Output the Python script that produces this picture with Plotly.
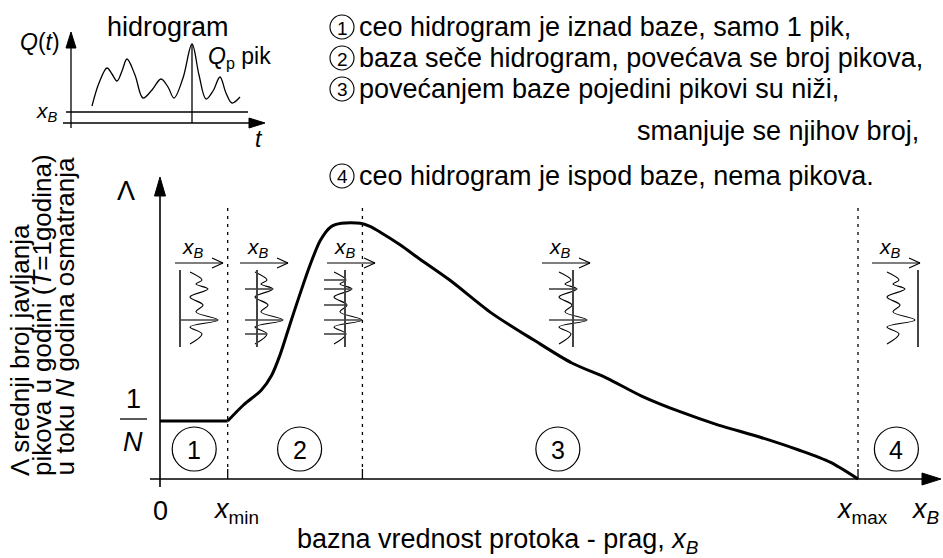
import plotly.graph_objects as go

W, H = 943, 558
FONT = "Liberation Sans"
FS = 27

# ---- main curve: mean yearly number of peaks Λ versus base flow x_B ----
# x_B in units where x_max = 10, Λ in units of 1/N
x_b = [0, 0.97, 1.2, 1.45, 1.6, 1.72, 1.86, 2.0, 2.15, 2.3, 2.45, 2.6, 2.87, 3.0,
       3.15, 3.45, 3.7, 4.15, 4.75, 5.35, 5.9, 6.4, 6.9, 7.45, 8.0, 8.6, 9.15, 9.6, 10]
lam = [1.0, 1.0, 1.28, 1.53, 1.79, 2.14, 2.66, 3.17, 3.69, 4.12, 4.35, 4.41, 4.41, 4.36,
       4.26, 4.03, 3.81, 3.43, 2.86, 2.4, 2.0, 1.74, 1.43, 1.16, 0.93, 0.72, 0.5, 0.29, 0.0]
x_min, x_top, x_max = 0.97, 2.9, 10.0
region_ids = ["1", "2", "3", "4"]
region_label_x = [0.49, 2.0, 5.7, 10.55]

# ---- inset hydrograph Q(t) ----
t_h = [21, 28, 36, 41, 46, 51, 56, 64, 72, 81, 90, 97, 103, 112, 121, 128, 135, 142, 149, 155, 161, 169]
q_h = [17, 40, 55, 49, 42, 52, 64, 48, 25, 33, 44, 36, 25, 45, 79, 48, 24, 32, 46, 30, 20, 26]
q_base_inset = 11
t_peak, q_peak = 121, 79

# ---- rotated small hydrograph used in the regime sketches (t downward, Q rightward) ----
g_t = [0, 8, 12, 17, 25, 33, 40, 48, 55, 62, 72]
g_q = [2, 14, 8, 20, 2, 15, 8, 30, 2, 14, 2]
sketch_x0 = [188, 253, 332, 557, 885]      # left edge (Q = 0) of each sketch
sketch_base = [180, 257, 345, 573, 918]    # position of the base x_B in each sketch
sketch_arrow = [175, 240, 327, 542, 872]
SK_TOP, SK_BOT, SK_ARROW_Y = 272, 347, 263

# ---- pixel helpers ----
X0, Y0, SX, SY = 160, 479, 69.8, 58.0
def dx(p): return (p - X0) / SX
def dy(p): return (Y0 - p) / SY
def px(x): return X0 + x * SX
def py(y): return Y0 - y * SY
def pp(xp, yp): return xp / W, 1 - yp / H

IX0, IY0 = 71, 123  # inset origin

fig = go.Figure()

# Λ curve
i_min = x_b.index(x_min)
fig.add_trace(go.Scatter(x=x_b[:i_min + 1], y=lam[:i_min + 1], mode="lines",
                         line=dict(color="black", width=3), hoverinfo="skip"))
fig.add_trace(go.Scatter(x=x_b[i_min:], y=lam[i_min:], mode="lines",
                         line=dict(color="black", width=3, shape="spline", smoothing=0.8),
                         hoverinfo="skip"))

# inset hydrograph
fig.add_trace(go.Scatter(x=t_h, y=q_h, mode="lines", xaxis="x2", yaxis="y2",
                         line=dict(color="black", width=1.3, shape="spline", smoothing=1.0),
                         hoverinfo="skip"))

shapes = []
annos = []

def line_px(x0, y0, x1, y1, w=1.5, color="black", dash=None):
    a, b = pp(x0, y0)
    c, d = pp(x1, y1)
    ln = dict(color=color, width=w)
    if dash:
        ln["dash"] = dash
    shapes.append(dict(type="line", xref="paper", yref="paper", x0=a, y0=b, x1=c, y1=d, line=ln))

def tri_px(pts):
    s = "M " + " L ".join("%f,%f" % pp(x, y) for x, y in pts) + " Z"
    shapes.append(dict(type="path", xref="paper", yref="paper", path=s,
                       fillcolor="black", line=dict(color="black", width=1)))

def circle_px(cx, cy, r, w=1.2):
    a, b = pp(cx - r, cy - r)
    c, d = pp(cx + r, cy + r)
    shapes.append(dict(type="circle", xref="paper", yref="paper", x0=a, y0=d, x1=c, y1=b,
                       line=dict(color="black", width=w)))

def text_px(x, y, s, size=FS, xanchor="center", yanchor="middle", angle=0):
    a, b = pp(x, y)
    annos.append(dict(x=a, y=b, xref="paper", yref="paper", text=s, showarrow=False,
                      xanchor=xanchor, yanchor=yanchor, textangle=angle,
                      font=dict(family=FONT, size=size, color="black")))

XB = "<i>x</i><sub><i>B</i></sub>"

# main axes
line_px(160, 487, 160, 192, 1.6)
tri_px([(160, 177), (154.5, 196), (165.5, 196)])
line_px(150, 479, 926, 479, 1.6)
tri_px([(941, 479), (922, 473), (922, 485)])

# region boundaries
for xv in (x_min, x_top, x_max):
    line_px(px(xv), 208, px(xv), 469, 1.3, dash="3px,5px")
    line_px(px(xv), 469, px(xv), 479, 1.3)

# region numbers
for xv, lab in zip(region_label_x, region_ids):
    circle_px(px(xv), 449, 22)
    text_px(px(xv), 450, lab, 25)

# axis labels
text_px(160, 511, "0", FS)
text_px(236, 511, "<i>x</i><sub>min</sub>", FS)
text_px(862, 511, "<i>x</i><sub>max</sub>", FS)
text_px(925, 511, XB, FS)
text_px(295, 541, "bazna vrednost protoka - prag, " + XB, FS, xanchor="left")
text_px(126, 191, "Λ", FS)
text_px(133, 399, "1", FS)
line_px(120, 419, 147, 419, 1.3)
text_px(133, 442, "<i>N</i>", FS)

# rotated y label (three lines, starting at the bottom)
text_px(20, 478, "Λ srednji broj javljanja", 26, yanchor="bottom", angle=-90)
text_px(42, 478, "pikova u godini (<i>T</i>=1godina)", 26, yanchor="bottom", angle=-90)
text_px(64, 478, "u toku <i>N</i> godina osmatranja", 26, yanchor="bottom", angle=-90)

# legend list
list_y = [27, 58, 89, 176]
list_txt = ["ceo hidrogram je iznad baze, samo 1 pik,",
            "baza seče hidrogram, povećava se broj pikova,",
            "povećanjem baze pojedini pikovi su niži,",
            "ceo hidrogram je ispod baze, nema pikova."]
for yv, lab, s in zip(list_y, region_ids, list_txt):
    circle_px(342, yv, 12, 1.1)
    text_px(342, yv + 1, lab, 19)
    text_px(357, yv, s, FS, xanchor="left")
text_px(921, 131, "smanjuje se njihov broj,", FS, xanchor="right")

# inset axes
line_px(IX0, IY0 + 5, IX0, 46, 1.3)
tri_px([(IX0, 32), (IX0 - 5, 48), (IX0 + 5, 48)])
line_px(63, IY0, 250, IY0, 1.3)
tri_px([(265, IY0), (249, IY0 - 5), (249, IY0 + 5)])
line_px(66, IY0 - q_base_inset, 248, IY0 - q_base_inset, 1.3)
line_px(IX0 + t_peak, IY0, IX0 + t_peak, IY0 - q_peak, 1.3)
text_px(168, 27, "hidrogram", FS)
text_px(40, 42, "<i>Q</i>(<i>t</i>)", 23)
text_px(206, 58, "<i>Q</i><sub>p</sub> pik", 23, xanchor="left")
text_px(47, 112, XB, 21)
text_px(259, 139, "<i>t</i>", 23)

# regime sketches
for x0, xb_, xa in zip(sketch_x0, sketch_base, sketch_arrow):
    line_px(xa, SK_ARROW_Y, xa + 48, SK_ARROW_Y, 1.2)
    line_px(xa + 48, SK_ARROW_Y, xa + 37, SK_ARROW_Y - 5, 1.2)
    line_px(xa + 48, SK_ARROW_Y, xa + 37, SK_ARROW_Y + 5, 1.2)
    text_px(xa + 18, 248, XB, 21)
    line_px(xb_, SK_TOP - 2, xb_, SK_BOT, 2, color="#444")
    fig.add_trace(go.Scatter(x=[dx(x0 + q) for q in g_q], y=[dy(SK_TOP + t) for t in g_t],
                             mode="lines", line=dict(color="black", width=1.1, shape="spline",
                                                     smoothing=1.0), hoverinfo="skip"))
    # one peak per excursion of the hydrograph above the base
    b = xb_ - x0
    run = None
    peaks = []
    for t, q in zip(g_t, g_q):
        if q > b:
            if run is None or q > run[1]:
                run = (t, q)
        elif run is not None:
            peaks.append(run)
            run = None
    if run is not None:
        peaks.append(run)
    for t, q in peaks:
        line_px(min(xb_, x0 - 8), SK_TOP + t, x0 + q, SK_TOP + t, 1.6, "#444")

fig.update_layout(
    width=W, height=H, margin=dict(l=0, r=0, t=0, b=0),
    font=dict(family=FONT, size=FS, color="black"),
    paper_bgcolor="white", plot_bgcolor="white", showlegend=False,
    xaxis=dict(range=[dx(0), dx(W)], domain=[0, 1], visible=False, fixedrange=True),
    yaxis=dict(range=[dy(H), dy(0)], domain=[0, 1], visible=False, fixedrange=True),
    xaxis2=dict(range=[-IX0, W - IX0], domain=[0, 1], anchor="y2", visible=False, overlaying="x"),
    yaxis2=dict(range=[-(H - IY0), IY0], domain=[0, 1], anchor="x2", visible=False, overlaying="y"),
    shapes=shapes, annotations=annos,
)

fig.write_html("out.html")
